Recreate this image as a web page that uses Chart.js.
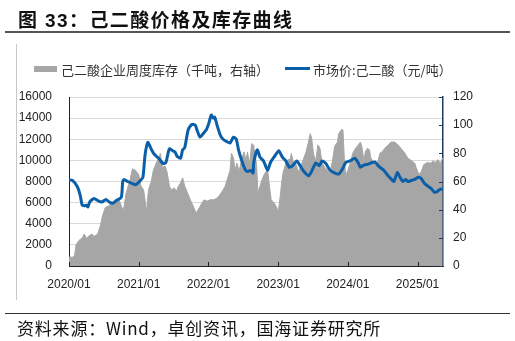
<!DOCTYPE html>
<html>
<head>
<meta charset="utf-8">
<script src="https://cdn.jsdelivr.net/npm/chart.js@4.4.1/dist/chart.umd.min.js"></script>
<style>
    html, body { margin: 0; padding: 0; background: #fff; }
    #page { position: relative; width: 515px; height: 341px; overflow: hidden; font-family: "Liberation Sans", "Noto Sans CJK SC", sans-serif; }
    #chartBox { position: absolute; left: 0; top: 0; width: 515px; height: 341px; }
    .title { position: absolute; left: 18px; top: 5px; font-size: 19px; font-weight: bold; color: #111; letter-spacing: 1.4px; white-space: nowrap; }
    .rule { position: absolute; background: #555; }
    .legend { position: absolute; top: 60px; font-size: 13px; color: #333; white-space: nowrap; font-family: "Noto Sans CJK SC", sans-serif; }
    .swatch { position: absolute; }
    .source { position: absolute; left: 17px; top: 315px; font-size: 17px; color: #111; white-space: nowrap; font-family: "Noto Sans CJK SC", sans-serif; letter-spacing: 0.8px; }
</style>
</head>
<body>
<div id="page">
    <div id="chartBox"><canvas id="chart"></canvas></div>
    <div class="title">图 33：己二酸价格及库存曲线</div>
    <div class="rule" style="left:5px; top:31px; width:505px; height:1.5px;"></div>
    <div class="rule" style="left:16px; top:44px; width:1px; height:256px; background:#c8c8c8;"></div>
    <div class="swatch" style="left:34px; top:66px; width:23px; height:6px; background:#a6a6a6;"></div>
    <div class="legend" style="left:61px;">己二酸企业周度库存（千吨，右轴）</div>
    <div class="swatch" style="left:285px; top:67px; width:25px; height:3px; background:#0b5ea8;"></div>
    <div class="legend" style="left:313px;">市场价:己二酸（元/吨）</div>
    <div class="rule" style="left:5px; top:313px; width:505px; height:1px; background:#333;"></div>
    <div class="source">资料来源：Wind，卓创资讯，国海证券研究所</div>
</div>
<script>
// market price, yuan/ton (left axis)
const priceDates = [
    2020.00, 2020.05, 2020.12, 2020.16, 2020.19, 2020.22, 2020.25, 2020.27, 2020.30, 2020.36,
    2020.41, 2020.47, 2020.53, 2020.58, 2020.63, 2020.68, 2020.75, 2020.77, 2020.79, 2020.84,
    2020.91, 2020.96, 2021.01, 2021.06, 2021.09, 2021.13, 2021.18, 2021.22, 2021.27, 2021.31,
    2021.35, 2021.39, 2021.44, 2021.49, 2021.52, 2021.55, 2021.60, 2021.63, 2021.66, 2021.71,
    2021.76, 2021.81, 2021.84, 2021.88, 2021.92, 2021.97, 2022.01, 2022.04, 2022.07, 2022.09,
    2022.13, 2022.17, 2022.21, 2022.27, 2022.31, 2022.36, 2022.40, 2022.43, 2022.48, 2022.53,
    2022.56, 2022.61, 2022.64, 2022.65, 2022.70, 2022.74, 2022.79, 2022.85, 2022.89, 2022.94,
    2023.01, 2023.06, 2023.11, 2023.16, 2023.20, 2023.27, 2023.31, 2023.37, 2023.44, 2023.49,
    2023.54, 2023.59, 2023.63, 2023.68, 2023.74, 2023.80, 2023.87, 2023.92, 2023.97, 2024.03,
    2024.10, 2024.15, 2024.18, 2024.23, 2024.29, 2024.35, 2024.39, 2024.44, 2024.51, 2024.57,
    2024.62, 2024.66, 2024.71, 2024.74, 2024.79, 2024.83, 2024.86, 2024.91, 2024.96, 2025.01,
    2025.05, 2025.10, 2025.16, 2025.20, 2025.24, 2025.28, 2025.32, 2025.36
];
const priceValues = [
    8150, 8100, 7500, 6700, 5750, 5700, 5750, 5600, 6100, 6400,
    6200, 6050, 6300, 6050, 5950, 6200, 6500, 7950, 8200, 8000,
    7800, 7700, 8000, 8400, 10450, 11700, 11050, 10600, 10300, 10000,
    9700, 9800, 11100, 10900, 10800, 10400, 10200, 11000, 11200, 12900,
    13400, 13350, 12800, 12200, 12500, 12900, 13600, 14300, 14000, 14100,
    13200, 12400, 12000, 11750, 11650, 12200, 12000, 11050, 9950, 9100,
    8950, 9050, 8800, 9800, 11000, 10300, 9950, 9050, 9800, 10300,
    10900, 10300, 9950, 9350, 9450, 9950, 9550, 8950, 8550, 9100,
    9750, 9500, 9950, 9750, 9100, 8850, 8700, 9150, 9800, 9950,
    10200, 9750, 9350, 9550, 9650, 9800, 9850, 9450, 9100, 8600,
    8250, 8000, 8850, 8500, 8000, 8200, 8000, 8100, 8200, 8400,
    8300, 7800, 7500, 7300, 7000, 7050, 7250, 7300
];

// weekly inventory, kt (right axis)
const stockDates = [
    2020.00, 2020.05, 2020.08, 2020.10, 2020.14, 2020.19, 2020.22, 2020.25, 2020.29, 2020.33,
    2020.36, 2020.41, 2020.45, 2020.48, 2020.52, 2020.57, 2020.62, 2020.66, 2020.71, 2020.75,
    2020.78, 2020.82, 2020.87, 2020.91, 2020.95, 2021.00, 2021.03, 2021.07, 2021.09, 2021.11,
    2021.14, 2021.18, 2021.21, 2021.25, 2021.29, 2021.31, 2021.34, 2021.38, 2021.41, 2021.44,
    2021.47, 2021.51, 2021.54, 2021.57, 2021.60, 2021.63, 2021.66, 2021.70, 2021.74, 2021.78,
    2021.81, 2021.83, 2021.87, 2021.91, 2021.94, 2021.98, 2022.02, 2022.08, 2022.13, 2022.17,
    2022.21, 2022.24, 2022.27, 2022.31, 2022.33, 2022.36, 2022.38, 2022.41, 2022.44, 2022.48,
    2022.51, 2022.54, 2022.56, 2022.59, 2022.62, 2022.64, 2022.65, 2022.69, 2022.71, 2022.74,
    2022.77, 2022.81, 2022.85, 2022.87, 2022.90, 2022.94, 2022.98, 2023.00, 2023.03, 2023.05,
    2023.07, 2023.11, 2023.14, 2023.17, 2023.19, 2023.22, 2023.25, 2023.29, 2023.32, 2023.36,
    2023.40, 2023.43, 2023.46, 2023.48, 2023.51, 2023.54, 2023.57, 2023.60, 2023.63, 2023.67,
    2023.71, 2023.74, 2023.78, 2023.81, 2023.85, 2023.87, 2023.91, 2023.93, 2023.95, 2023.97,
    2024.00, 2024.04, 2024.07, 2024.11, 2024.15, 2024.18, 2024.20, 2024.23, 2024.25, 2024.28,
    2024.31, 2024.33, 2024.36, 2024.39, 2024.42, 2024.46, 2024.49, 2024.53, 2024.58, 2024.62,
    2024.67, 2024.72, 2024.77, 2024.82, 2024.86, 2024.92, 2024.96, 2024.98, 2025.02, 2025.05,
    2025.09, 2025.14, 2025.19, 2025.22, 2025.26, 2025.29, 2025.33, 2025.36
];
const stockValues = [
    6.3, 6.3, 7.5, 15, 18, 20, 22.7, 19.7, 21.5, 22.7,
    21, 22.7, 28.6, 35.6, 41.5, 42.7, 45, 46, 48, 42.7,
    39, 52, 60, 69, 68, 65, 57, 54, 47, 38,
    54, 60, 68, 73, 76.6, 80, 70, 71, 66, 56.7,
    54, 55.5, 53, 56.7, 59, 62.6, 56.7, 52, 47, 42.7,
    39, 38, 41.5, 45, 47, 46, 47, 47, 48.5, 51,
    54, 56.7, 61.5, 68, 80, 76.6, 68, 73, 67, 76.6,
    81, 75, 81, 72, 87, 86, 85, 72, 52, 56.7,
    61.5, 66, 68, 59, 47, 45, 41.5, 38, 49.5, 59,
    66, 73, 75.5, 75.5, 80, 73, 73, 67, 70, 75.5,
    81, 87, 94, 91, 79, 74.6, 86, 83.6, 73, 70,
    68, 66, 74.6, 85, 88, 94, 97, 96.7, 75.5, 64,
    68, 74, 80, 83.6, 86, 88, 85, 74.6, 81, 83.6,
    82.5, 76.6, 74.6, 73, 72, 80, 81, 83.6, 86, 88,
    88, 86, 83, 80, 76.6, 74.6, 73, 70, 65, 66.7,
    72, 73.5, 73, 74.6, 73.5, 75.5, 73, 76.6
];

const yearStarts = [2020, 2021, 2022, 2023, 2024, 2025];
const yearLabels = ['2020/01', '2021/01', '2022/01', '2023/01', '2024/01', '2025/01'];
const priceTicks = [0, 2000, 4000, 6000, 8000, 10000, 12000, 14000, 16000];
const stockTicks = [0, 20, 40, 60, 80, 100, 120];

const tickFont = { family: '"Liberation Sans", Arial, sans-serif', size: 12 };

// small inward tick marks like the original
const innerTicks = {
    id: 'innerTicks',
    afterDatasetsDraw(chart) {
        const { ctx, chartArea, scales } = chart;
        ctx.save();
        ctx.lineWidth = 1;
        ctx.strokeStyle = '#222';
        yearStarts.forEach(v => {
            const x = Math.round(scales.x.getPixelForValue(v)) + 0.5;
            ctx.beginPath();
            ctx.moveTo(x, chartArea.bottom);
            ctx.lineTo(x, chartArea.bottom - 4);
            ctx.stroke();
        });
        ctx.strokeStyle = '#1f3864';
        stockTicks.forEach(v => {
            const y = Math.round(scales.y1.getPixelForValue(v)) + 0.5;
            ctx.beginPath();
            ctx.moveTo(chartArea.right, y);
            ctx.lineTo(chartArea.right - 4, y);
            ctx.stroke();
        });
        ctx.restore();
    }
};

const ctx = document.getElementById('chart');

new Chart(ctx, {
    type: 'line',
    data: {
        datasets: [{
            label: '市场价:己二酸（元/吨）',
            data: priceDates.map((d, i) => ({ x: d, y: priceValues[i] })),
            yAxisID: 'y',
            borderColor: '#0b5ea8',
            borderWidth: 3,
            pointRadius: 0,
            tension: 0.2,
            fill: false,
            order: 0
        }, {
            label: '己二酸企业周度库存（千吨，右轴）',
            data: stockDates.map((d, i) => ({ x: d, y: stockValues[i] })),
            yAxisID: 'y1',
            borderColor: '#a6a6a6',
            borderWidth: 1,
            backgroundColor: '#a6a6a6',
            pointRadius: 0,
            tension: 0,
            fill: 'origin',
            order: 1
        }]
    },
    options: {
        responsive: true,
        maintainAspectRatio: false,
        animation: false,
        layout: { padding: { top: 97, left: 0, right: 0, bottom: 0 } },
        scales: {
            x: {
                type: 'linear',
                min: 2020,
                max: 2025.365,
                afterFit: scale => { scale.height = 75; },
                afterBuildTicks: scale => { scale.ticks = yearStarts.map(v => ({ value: v })); },
                ticks: {
                    font: tickFont,
                    color: '#222',
                    padding: 11,
                    maxRotation: 0,
                    callback: v => yearLabels[yearStarts.indexOf(v)]
                },
                grid: { display: false, drawTicks: false },
                border: { display: true, color: '#222', width: 1 }
            },
            y: {
                position: 'left',
                min: 0,
                max: 16000,
                afterFit: scale => { scale.width = 69; },
                afterBuildTicks: scale => { scale.ticks = priceTicks.map(v => ({ value: v })); },
                ticks: { font: tickFont, color: '#222', padding: 17, callback: v => String(v) },
                grid: { color: '#d9d9d9', lineWidth: 1, drawTicks: false },
                border: { display: true, color: '#222', width: 1 }
            },
            y1: {
                position: 'right',
                min: 0,
                max: 120,
                afterFit: scale => { scale.width = 72; },
                afterBuildTicks: scale => { scale.ticks = stockTicks.map(v => ({ value: v })); },
                ticks: { font: tickFont, color: '#222', padding: 10, callback: v => String(v) },
                grid: { display: false, drawTicks: false },
                border: { display: true, color: '#1f3864', width: 1.5 }
            }
        },
        plugins: {
            legend: { display: false },
            tooltip: { enabled: false }
        }
    },
    plugins: [innerTicks]
});
</script>
</body>
</html>
